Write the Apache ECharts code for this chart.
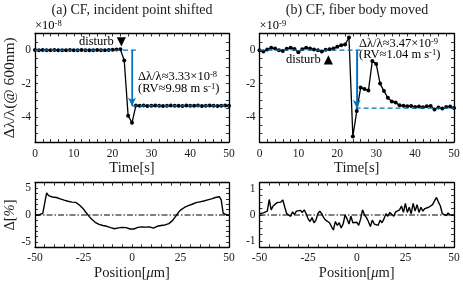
<!DOCTYPE html>
<html><head><meta charset="utf-8">
<script src="https://cdn.jsdelivr.net/npm/echarts@6/dist/echarts.min.js"></script>
<style>html,body{margin:0;padding:0;background:#fff}#c{width:463px;height:282px}</style>
</head><body><div id="c"></div><script>
// ---------- data ----------
const timeS = [0,1,2,3,4,5,6,7,8,9,10,11,12,13,14,15,16,17,18,19,20,21,22,23,24,25,26,27,28,29,30,31,32,33,34,35,36,37,38,39,40,41,42,43,44,45,46,47,48,49,50];
// (a) Δλ/λ in units of 1e-8
const shiftA = [0.01,0,0.01,-0.01,0,0.01,0,0,-0.01,0.01,0,0,0.01,0,-0.01,0,0.01,0,0,0.01,0.02,0.04,0.05,-0.62,-3.92,-4.35,-3.32,-3.33,-3.32,-3.34,-3.33,-3.32,-3.33,-3.34,-3.33,-3.32,-3.33,-3.33,-3.34,-3.32,-3.33,-3.33,-3.32,-3.34,-3.33,-3.32,-3.33,-3.34,-3.33,-3.32,-3.33];
// (b) Δλ/λ in units of 1e-9
const shiftB = [0,-0.08,0.04,0.14,0.1,0,-0.05,0.08,0.15,0.07,-0.12,0.06,0.15,0.1,0.04,0,-0.08,0.02,0.05,0.1,0.2,0.3,0.34,0.76,-5.17,-3.65,-2.24,-2.33,-2.42,-0.64,-0.82,-2.0,-2.45,-2.85,-3.07,-3.14,-3.3,-3.33,-3.36,-3.35,-3.4,-3.38,-3.42,-3.36,-3.34,-3.55,-3.43,-3.5,-3.4,-3.38,-3.46];
// reference levels (blue dashed) and their time spans
const refLevelsA = [0, -3.33];
const refSpansA = [[0, 26], [25, 50]];
const refLevelsB = [0, -3.47];
const refSpansB = [[0, 26], [24.7, 50]];
const arrowTime = [25, 25];
// position profiles
const positionUm = [-50,-49,-48,-47,-46,-45,-44,-43,-42,-41,-40,-39,-38,-37,-36,-35,-34,-33,-32,-31,-30,-29,-28,-27,-26,-25,-24,-23,-22,-21,-20,-19,-18,-17,-16,-15,-14,-13,-12,-11,-10,-9,-8,-7,-6,-5,-4,-3,-2,-1,0,1,2,3,4,5,6,7,8,9,10,11,12,13,14,15,16,17,18,19,20,21,22,23,24,25,26,27,28,29,30,31,32,33,34,35,36,37,38,39,40,41,42,43,44,45,46,47,48,49,50];
const profileA = [0,0,0,0.05,0.3,2.2,4.1,3.6,3.4,3.35,3.3,3.25,3.1,3.0,2.85,2.75,2.7,2.55,2.45,2.4,2.3,2.35,2.05,1.8,1.5,1.1,0.6,0.15,-0.3,-0.7,-1.05,-1.35,-1.6,-1.75,-1.85,-1.95,-2.0,-2.1,-2.3,-2.35,-2.4,-2.55,-2.7,-2.4,-2.5,-2.3,-2.45,-2.35,-2.4,-2.6,-2.7,-2.6,-2.55,-2.3,-2.35,-2.2,-2.4,-2.25,-2.35,-2.2,-2.3,-2.45,-2.2,-2.1,-2.2,-1.95,-1.9,-1.85,-1.8,-1.6,-1.4,-1.0,-0.5,0.0,0.5,0.9,1.2,1.4,1.6,1.75,1.9,2.0,2.2,2.3,2.4,2.45,2.55,2.6,2.75,2.8,2.95,3.0,3.2,3.25,3.45,3.4,2.8,0.3,0,0,0];
const profileB = [0.05,0.04,0.08,0.1,0.15,0.6,0.2,0.35,0.4,0.48,0.55,0.5,0.58,0.3,0.05,0.1,-0.05,0.12,0.02,0.15,0.08,0.18,0.1,0.2,0.05,-0.15,-0.25,-0.1,-0.3,-0.2,0.05,0.15,0.05,-0.1,-0.2,-0.15,-0.3,-0.45,-0.58,-0.25,-0.4,-0.3,-0.5,-0.35,0.0,-0.15,-0.35,-0.05,-0.3,-0.35,-0.28,-0.4,-0.15,0.2,0.0,-0.1,-0.25,-0.45,-0.2,-0.35,-0.3,-0.4,-0.2,-0.3,-0.15,0.05,-0.05,0.1,0.05,-0.05,0.12,0.05,0.2,0.35,0.1,0.45,0.1,0.3,0.05,0.45,0.15,0.4,0.1,0.3,0.15,0.25,0.2,0.3,0.25,0.4,0.55,0.68,0.5,0.35,0.05,0.12,-0.02,0.08,0.0,0.02,0.0];
const zeroLevel = 0;
// tick labels
const timeLabels = [0,10,20,30,40,50];
const shiftLabels = [0,-2,-4];
const posLabels = [-50,-25,0,25,50];
const profALabels = [5,0,-5];
const profBLabels = [1,0,-1];

// ---------- chart ----------
const F = 'Liberation Serif';
const BLUE = '#0072BD';
const TXT = '#1a1a1a';
const NAME_FS = 14.5;
const grids = [
  {left:35, top:33.5, width:194, height:108.5},
  {left:259.5, top:33.5, width:194.5, height:108.5},
  {left:35, top:182.7, width:194, height:64.6},
  {left:259.5, top:182.7, width:194.5, height:64.6}
];
function has(list, v){ return list.some(L => Math.abs(L - v) < 1e-6); }
const tick = {show:true, inside:true, length:3, lineStyle:{color:'#000', width:0.8}};
const line = {show:true, onZero:false, lineStyle:{color:'#000', width:1.3}};
function xAx(g, min, max, interval, labels, name, nameGap, labelMargin){
  return [{
    gridIndex:g, type:'value', min, max, interval, position:'bottom',
    axisLine:line, axisTick:tick, splitLine:{show:false},
    axisLabel:{formatter:v => has(labels, v) ? String(v) : '', fontFamily:F, fontSize:11.5, color:TXT, margin:labelMargin},
    name, nameLocation:'middle', nameGap,
    nameTextStyle:{fontFamily:F, fontSize:NAME_FS, color:TXT, rich:{i:{fontFamily:F, fontSize:NAME_FS, fontStyle:'italic', color:TXT}}}
  },{
    gridIndex:g, type:'value', min, max, interval, position:'top',
    axisLine:line, axisTick:tick, splitLine:{show:false}, axisLabel:{show:false}
  }];
}
function yAx(g, min, max, interval, labels, name, nameGap, nameFs){
  return [{
    gridIndex:g, type:'value', min, max, interval, position:'left',
    axisLine:line, axisTick:tick, splitLine:{show:false},
    axisLabel:{formatter:v => has(labels, v) ? String(v) : '', fontFamily:F, fontSize:11.5, color:TXT, margin:4},
    name, nameLocation:'middle', nameGap,
    nameTextStyle:{fontFamily:F, fontSize:nameFs, color:TXT, rich:{i:{fontFamily:F, fontSize:nameFs, fontStyle:'italic', color:TXT}}}
  },{
    gridIndex:g, type:'value', min, max, interval, position:'right',
    axisLine:line, axisTick:tick, splitLine:{show:false}, axisLabel:{show:false}
  }];
}
const xAxis = [].concat(
  xAx(0, 0, 50, 2, timeLabels, 'Time[s]', 14, 6),
  xAx(1, 0, 50, 2, timeLabels, 'Time[s]', 14, 6),
  xAx(2, -50, 50, 5, posLabels, 'Position[{i|μ}m]', 16, 5),
  xAx(3, -50, 50, 5, posLabels, 'Position[{i|μ}m]', 16, 5)
);
const yAxis = [].concat(
  yAx(0, -5.5, 1, 0.5, shiftLabels, 'Δλ/λ(@ 600nm)', 17, 15.5),
  yAx(1, -5.5, 1, 0.5, shiftLabels, '', 10, 14),
  yAx(2, -6, 6, 1, profALabels, 'Δ[{i|%}]', 15, 14.5),
  yAx(3, -1.25, 1.25, 0.25, profBLabels, '', 10, 14)
);
function zip(xs, ys){ return xs.map((x,i) => [x, ys[i]]); }
function refSeries(axisIdx, levels, spans, arrowT){
  const out = [];
  levels.forEach((lv, k) => {
    out.push({type:'line', xAxisIndex:axisIdx, yAxisIndex:axisIdx, z:5, symbol:'none', silent:true,
      data:[[spans[k][0], lv], [spans[k][1], lv]],
      lineStyle:{color:BLUE, width:1.3, type:[5,3]}});
  });
  out.push({type:'line', xAxisIndex:axisIdx, yAxisIndex:axisIdx, z:6, symbol:'none', silent:true,
    data:[[arrowT, levels[0]], [arrowT, levels[1]]], lineStyle:{color:BLUE, width:1.2},
    markLine:{silent:true, symbol:['none','arrow'], symbolSize:[6,8], label:{show:false},
      lineStyle:{color:BLUE, width:1.2, type:'solid'},
      data:[[{coord:[arrowT, levels[0]]},{coord:[arrowT, levels[1]]}]]}});
  return out;
}
const series = [
  {type:'line', xAxisIndex:0, yAxisIndex:0, data:zip(timeS, shiftA), symbol:'circle', symbolSize:4,
   itemStyle:{color:'#000'}, lineStyle:{color:'#000', width:1.3}, z:3},
  {type:'line', xAxisIndex:2, yAxisIndex:2, data:zip(timeS, shiftB), symbol:'circle', symbolSize:4,
   itemStyle:{color:'#000'}, lineStyle:{color:'#000', width:1.3}, z:3},
  ...refSeries(0, refLevelsA, refSpansA, arrowTime[0]),
  ...refSeries(2, refLevelsB, refSpansB, arrowTime[1]),
  {type:'line', xAxisIndex:4, yAxisIndex:4, data:[[positionUm[0], zeroLevel],[positionUm[positionUm.length-1], zeroLevel]],
   symbol:'none', lineStyle:{color:'#000', width:1, type:[6,2,1.5,2]}, z:2},
  {type:'line', xAxisIndex:4, yAxisIndex:4, data:zip(positionUm, profileA), symbol:'none',
   lineStyle:{color:'#000', width:1.4}, z:3},
  {type:'line', xAxisIndex:6, yAxisIndex:6, data:[[positionUm[0], zeroLevel],[positionUm[positionUm.length-1], zeroLevel]],
   symbol:'none', lineStyle:{color:'#000', width:1, type:[6,2,1.5,2]}, z:2},
  {type:'line', xAxisIndex:6, yAxisIndex:6, data:zip(positionUm, profileB), symbol:'none',
   lineStyle:{color:'#000', width:1.4}, z:3}
];
const supRich = {
  m:{fontFamily:F, fontSize:12.5, color:BLUE, lineHeight:14},
  s:{fontFamily:F, fontSize:8.5, color:BLUE, verticalAlign:'top', lineHeight:14},
  k:{fontFamily:F, fontSize:12.5, color:TXT, lineHeight:14},
  ks:{fontFamily:F, fontSize:8.5, color:TXT, verticalAlign:'top', lineHeight:14},
  t:{fontFamily:'DejaVu Sans', fontSize:12, color:'#000', lineHeight:14}
};
const graphic = [
  {type:'text', x:132, y:10, style:{text:'(a) CF, incident point shifted', font:'14px "Liberation Serif"', fill:TXT, align:'center', verticalAlign:'middle'}},
  {type:'text', x:357, y:10, style:{text:'(b) CF, fiber body moved', font:'14px "Liberation Serif"', fill:TXT, align:'center', verticalAlign:'middle'}},
  {type:'text', x:35, y:26, style:{text:'{k|×10}{ks|-8}', rich:supRich, align:'left', verticalAlign:'middle'}},
  {type:'text', x:259.5, y:26, style:{text:'{k|×10}{ks|-9}', rich:supRich, align:'left', verticalAlign:'middle'}},
  {type:'text', x:126, y:42, style:{text:'{k|disturb }{t|▼}', rich:supRich, align:'right', verticalAlign:'middle'}},
  {type:'text', x:333, y:60, style:{text:'{k|disturb }{t|▲}', rich:supRich, align:'right', verticalAlign:'middle'}},
  {type:'text', x:138, y:77, style:{text:'{m|Δλ/λ≈3.33×10}{s|-8}', rich:supRich, align:'left', verticalAlign:'middle'}},
  {type:'text', x:138, y:89, style:{text:'{m|(RV≈9.98 m s}{s|-1}{m|)}', rich:supRich, align:'left', verticalAlign:'middle'}},
  {type:'text', x:359, y:44, style:{text:'{m|Δλ/λ≈3.47×10}{s|-9}', rich:supRich, align:'left', verticalAlign:'middle'}},
  {type:'text', x:359, y:55, style:{text:'{m|(RV≈1.04 m s}{s|-1}{m|)}', rich:supRich, align:'left', verticalAlign:'middle'}}
];
const chart = echarts.init(document.getElementById('c'), null, {renderer:'canvas'});
chart.setOption({animation:false, backgroundColor:'#fff', grid:grids, xAxis, yAxis, series, graphic});
</script></body></html>
